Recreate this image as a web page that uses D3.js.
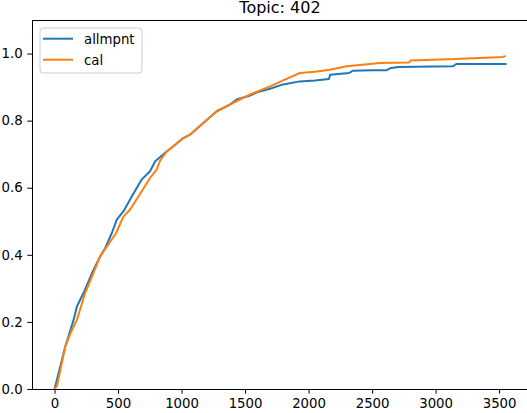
<!DOCTYPE html>
<html>
<head>
<meta charset="utf-8">
<script src="https://cdn.jsdelivr.net/npm/d3@7"></script>
<style>
  body { margin: 0; background: #fff; }
  text { font-family: "DejaVu Sans", sans-serif; }
</style>
</head>
<body>
<div id="chart"></div>
<script>
// recall curves
const allmpntX = [0, 40, 84, 150, 176, 228, 300, 359, 399, 451, 490, 543, 608, 687, 752, 792, 883, 950, 1014, 1067, 1171, 1277, 1381, 1434, 1539, 1600, 1696, 1800, 1931, 2050, 2160, 2170, 2320, 2349, 2500, 2613, 2640, 2704, 3137, 3163, 3551];
const allmpntY = [0, 0.06, 0.126, 0.206, 0.246, 0.286, 0.35, 0.395, 0.42, 0.465, 0.505, 0.53, 0.574, 0.625, 0.649, 0.679, 0.708, 0.728, 0.748, 0.758, 0.793, 0.828, 0.848, 0.863, 0.875, 0.885, 0.895, 0.908, 0.917, 0.92, 0.924, 0.937, 0.942, 0.949, 0.950, 0.950, 0.956, 0.960, 0.962, 0.969, 0.969];
const calX = [0, 20, 84, 130, 176, 241, 300, 359, 385, 485, 542, 595, 660, 752, 805, 830, 883, 950, 1014, 1067, 1171, 1277, 1381, 1460, 1539, 1696, 1800, 1931, 2050, 2167, 2300, 2482, 2560, 2789, 2802, 3150, 3347, 3528, 3545];
const calY = [0, 0.01, 0.126, 0.17, 0.206, 0.286, 0.34, 0.395, 0.41, 0.465, 0.514, 0.535, 0.574, 0.629, 0.655, 0.68, 0.708, 0.728, 0.748, 0.758, 0.793, 0.828, 0.848, 0.863, 0.878, 0.902, 0.92, 0.942, 0.946, 0.952, 0.962, 0.969, 0.972, 0.973, 0.979, 0.984, 0.987, 0.990, 0.992];
const xTicks = [0, 500, 1000, 1500, 2000, 2500, 3000, 3500];
const yTicks = [0, 0.2, 0.4, 0.6, 0.8, 1.0];
const seriesNames = ["allmpnt", "cal"];
const colors = ["#1f77b4", "#ff7f0e"];

const width = 527, height = 413;
const margin = {top: 20, right: -1, bottom: 24, left: 32};
const w = width - margin.left - margin.right;
const h = height - margin.top - margin.bottom;

const svg = d3.select("#chart").append("svg")
  .attr("width", width).attr("height", height);

const g = svg.append("g")
  .attr("transform", "translate(" + margin.left + "," + margin.top + ")");

const x = d3.scaleLinear().domain([-177.5, 3727.5]).range([0, w]);
const y = d3.scaleLinear().domain([0, 1.1]).range([h, 0]);

const series = [
  allmpntX.map((v, i) => [v, allmpntY[i]]),
  calX.map((v, i) => [v, calY[i]])
];

const line = d3.line().x(d => x(d[0])).y(d => y(d[1]));

g.append("defs").append("clipPath").attr("id", "clip")
  .append("rect").attr("width", w).attr("height", h);

series.forEach((s, i) => {
  g.append("path")
    .datum(s)
    .attr("clip-path", "url(#clip)")
    .attr("fill", "none")
    .attr("stroke", colors[i])
    .attr("stroke-width", 2)
    .attr("stroke-linejoin", "round")
    .attr("stroke-linecap", "square")
    .attr("d", line);
});

// axes
const xAxis = g.append("g").attr("transform", "translate(0," + h + ")")
  .call(d3.axisBottom(x).tickValues(xTicks).tickSize(4.7).tickPadding(4.7).tickFormat(d3.format("d")));
const yAxis = g.append("g")
  .call(d3.axisLeft(y).tickValues(yTicks).tickSize(4.7).tickPadding(4.7).tickFormat(d3.format(".1f")));
[xAxis, yAxis].forEach(a => {
  a.select(".domain").remove();
  a.selectAll("line").attr("stroke", "#000").attr("stroke-width", 1);
  a.selectAll("text").attr("fill", "#000").style("font-size", "13.3px")
    .style("font-family", "'DejaVu Sans', sans-serif");
});

// spines
g.append("rect").attr("x", 0).attr("y", 0).attr("width", w).attr("height", h)
  .attr("fill", "none").attr("stroke", "#000").attr("stroke-width", 1)
  .attr("shape-rendering", "crispEdges");

// title (cut at top edge, as in the original image)
svg.append("text")
  .attr("x", margin.left + w / 2).attr("y", 13)
  .attr("text-anchor", "middle")
  .style("font-size", "16px")
  .text("Topic: 402");

// legend
const lg = g.append("g").attr("transform", "translate(8,8)");
lg.append("rect").attr("width", 102).attr("height", 45).attr("rx", 3)
  .attr("fill", "#fff").attr("fill-opacity", 0.8)
  .attr("stroke", "#cccccc").attr("stroke-width", 1);
seriesNames.forEach((name, i) => {
  const yy = 10.7 + i * 21;
  lg.append("line").attr("x1", 3).attr("x2", 33).attr("y1", yy).attr("y2", yy)
    .attr("stroke", colors[i]).attr("stroke-width", 2);
  lg.append("text").attr("x", 44).attr("y", yy + 4.8)
    .style("font-size", "13.3px").text(name);
});
</script>
</body>
</html>
